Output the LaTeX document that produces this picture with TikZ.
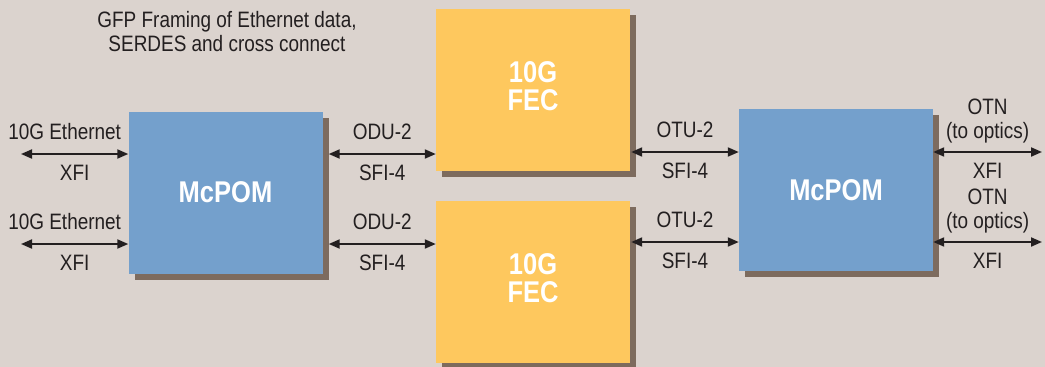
\documentclass[tikz,border=0pt]{standalone}
\usepackage{fontspec}
\setmainfont[FakeStretch=0.85]{Liberation Sans}
\usetikzlibrary{positioning,calc,arrows.meta,shadows}
\definecolor{bgcol}{HTML}{DBD3CE}
\definecolor{pomblue}{HTML}{74A0CC}
\definecolor{fecyellow}{HTML}{FEC85E}
\definecolor{shadowcol}{HTML}{7D6B5E}
\definecolor{inkcol}{HTML}{231F20}
\newcommand*{\lbl}{\fontsize{22.3}{24}\selectfont}
\newcommand*{\blk}{\fontsize{30}{28}\selectfont\bfseries}

\begin{document}
\begin{tikzpicture}[x=1pt,y=-1pt,
  block/.style={inner sep=0pt,minimum width=194pt,minimum height=162pt,
    align=center,text=white,font=\blk,
    general shadow={fill=shadowcol,shadow xshift=6pt,shadow yshift=-6pt}},
  pom/.style={block,fill=pomblue},
  fec/.style={block,fill=fecyellow,text depth=8pt},
  link/.style={draw=inkcol,line width=2pt,
    {Triangle[length=11pt,width=9pt]}-{Triangle[length=11pt,width=9pt]}},
  txt/.style={text=inkcol,font=\lbl,inner sep=2pt,align=center}]
% Page and background
\fill[bgcol] (0,0) rectangle (1045,367);
\useasboundingbox (0,0) rectangle (1045,367);
% The four blocks
\node[pom] (pomL) at (225.5,192.5) {McPOM};
\node[fec] (fecA) at (533,90) {10G\\FEC};
\node[fec] (fecB) at (533,282) {10G\\FEC};
\node[pom] (pomR) at (836,190) {McPOM};
% Heading over the left block
\node[txt] (head) at (227,31.5) {GFP Framing of Ethernet data,\\SERDES and cross connect};
% Free ends of the outer links
\coordinate (inA) at (21,154);
\coordinate (inB) at (21,244);
\coordinate (outA) at (1042,152);
\coordinate (outB) at (1042,242);
% Ethernet side
\draw[link] (inA) -- (inA -| pomL.west)
  node[midway,above=11pt,txt,xshift=-10pt] {10G Ethernet}
  node[midway,below=8pt,txt] {XFI};
\draw[link] (inB) -- (inB -| pomL.west)
  node[midway,above=11pt,txt,xshift=-10pt] {10G Ethernet}
  node[midway,below=8pt,txt] {XFI};
% McPOM to FEC
\draw[link] ($(pomL.east |- inA)+(6,0)$) -- (inA -| fecA.west)
  node[midway,above=11pt,txt] {ODU-2}
  node[midway,below=8pt,txt] {SFI-4};
\draw[link] ($(pomL.east |- inB)+(6,0)$) -- (inB -| fecB.west)
  node[midway,above=11pt,txt] {ODU-2}
  node[midway,below=8pt,txt] {SFI-4};
% FEC to McPOM
\draw[link] ($(fecA.east |- outA)+(1,0)$) -- (outA -| pomR.west)
  node[midway,above=11pt,txt] {OTU-2}
  node[midway,below=8pt,txt] {SFI-4};
\draw[link] ($(fecB.east |- outB)+(1,0)$) -- (outB -| pomR.west)
  node[midway,above=11pt,txt] {OTU-2}
  node[midway,below=8pt,txt] {SFI-4};
% Optics side
\draw[link] (outA -| pomR.east) -- (outA)
  node[midway,above=6pt,txt] {OTN\\(to optics)}
  node[midway,below=8pt,txt] {XFI};
\draw[link] (outB -| pomR.east) -- (outB)
  node[midway,above=6pt,txt] {OTN\\(to optics)}
  node[midway,below=8pt,txt] {XFI};
\end{tikzpicture}
\end{document}
